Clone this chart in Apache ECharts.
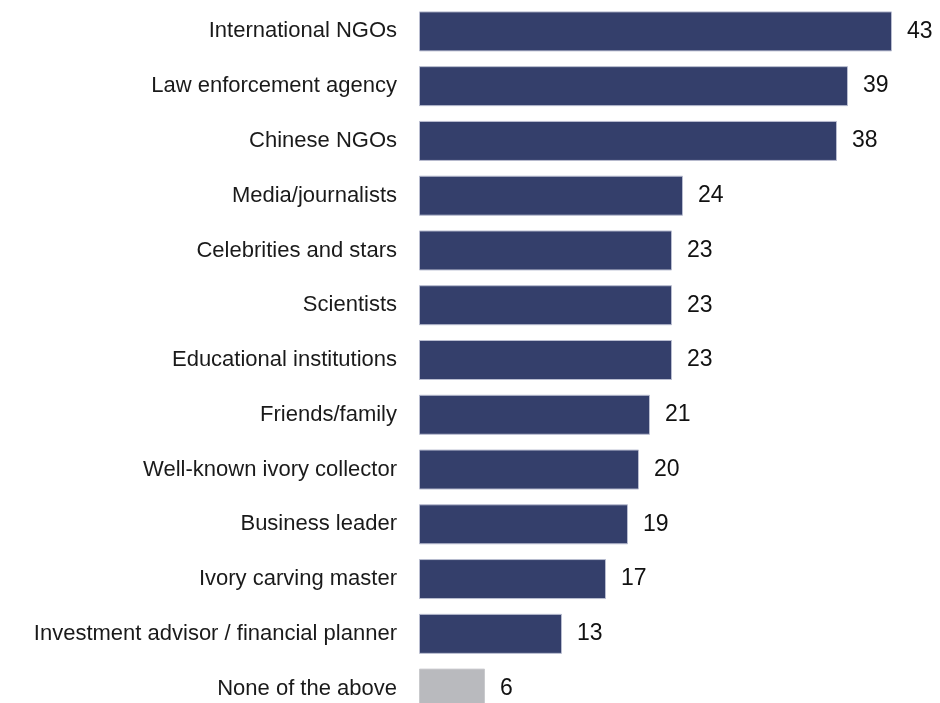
<!DOCTYPE html>
<html>
<head>
<meta charset="utf-8">
<script src="https://cdn.jsdelivr.net/npm/echarts@6/dist/echarts.min.js"></script>
<style>
  html, body { margin: 0; padding: 0; background: #fff; }
  #chart { width: 940px; height: 703px; }
</style>
</head>
<body>
<div id="chart"></div>
<script>
// Categories listed top to bottom
const categories = [
  'International NGOs',
  'Law enforcement agency',
  'Chinese NGOs',
  'Media/journalists',
  'Celebrities and stars',
  'Scientists',
  'Educational institutions',
  'Friends/family',
  'Well-known ivory collector',
  'Business leader',
  'Ivory carving master',
  'Investment advisor / financial planner',
  'None of the above'
];
const values = [43, 39, 38, 24, 23, 23, 23, 21, 20, 19, 17, 13, 6];

const FONT = '"Liberation Sans", Arial, sans-serif';
const NAVY = '#343f6b';
const GREY = '#b9babe';

const chart = echarts.init(document.getElementById('chart'));
chart.setOption({
  animation: false,
  grid: {
    left: 419, right: 48, top: 4, height: 712,
    containLabel: false,
    outerBoundsMode: 'none'
  },
  xAxis: {
    type: 'value', min: 0, max: 43,
    show: false
  },
  yAxis: {
    type: 'category',
    inverse: true,
    data: categories,
    axisLine: { show: false },
    axisTick: { show: false },
    axisLabel: {
      margin: 22,
      color: '#1a1a1a',
      fontFamily: FONT,
      fontSize: 22
    }
  },
  series: [{
    type: 'bar',
    barWidth: 40,
    data: values.map((v, i) => ({
      value: v,
      itemStyle: {
        color: i === values.length - 1 ? GREY : NAVY,
        borderColor: i === values.length - 1 ? '#c9cacd' : '#b9bdd0',
        borderWidth: 1
      }
    })),
    label: {
      show: true,
      position: 'right',
      distance: 15,
      color: '#111',
      fontFamily: FONT,
      fontSize: 23
    }
  }]
});
</script>
</body>
</html>
